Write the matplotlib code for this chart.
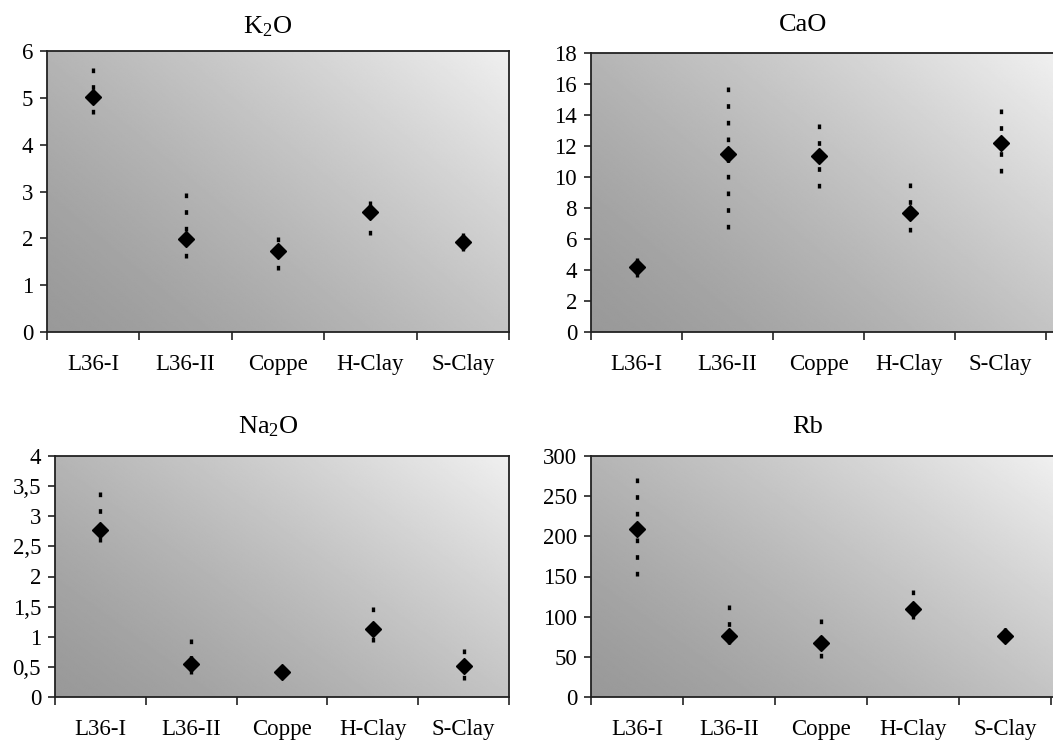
import numpy as np
import matplotlib
matplotlib.use("Agg")
import matplotlib.pyplot as plt
from matplotlib.ticker import FuncFormatter, FixedLocator

plt.rcParams['font.family'] = ['Liberation Serif', 'DejaVu Serif']
plt.rcParams['mathtext.default'] = 'regular'

categories = ["L36-I", "L36-II", "Coppe", "H-Clay", "S-Clay"]

k2o_mean = [5.02, 1.99, 1.72, 2.57, 1.92]
k2o_low = [4.65, 1.58, 1.32, 2.07, 1.73]
k2o_high = [5.63, 2.97, 2.02, 2.80, 2.12]

cao_mean = [4.2, 11.47, 11.38, 7.69, 12.22]
cao_low = [3.56, 6.64, 9.27, 6.42, 10.24]
cao_high = [4.8, 15.78, 13.4, 9.63, 14.38]

na2o_mean = [2.77, 0.55, 0.41, 1.13, 0.52]
na2o_low = [2.58, 0.39, 0.39, 0.91, 0.28]
na2o_high = [3.41, 0.96, 0.43, 1.49, 0.80]

rb_mean = [209.5, 75.5, 67.6, 110.0, 76.0]
rb_low = [150.6, 66.0, 49.0, 97.5, 68.5]
rb_high = [273.0, 114.0, 97.5, 133.0, 86.0]

panels = [
    dict(title=r"K$_{2}$O", mean=k2o_mean, low=k2o_low, high=k2o_high,
         ymax=6, step=1, rect=(47, 51, 509, 332), xmax=5.5, tx=268, ty=27, right=True),
    dict(title="CaO", mean=cao_mean, low=cao_low, high=cao_high,
         ymax=18, step=2, rect=(591, 53, 1053, 332), xmax=0.5 + 462 / 91.0, tx=803, ty=25, right=False),
    dict(title=r"Na$_{2}$O", mean=na2o_mean, low=na2o_low, high=na2o_high,
         ymax=4, step=0.5, rect=(55, 456, 509, 697), xmax=5.5, tx=268, ty=427, right=True),
    dict(title="Rb", mean=rb_mean, low=rb_low, high=rb_high,
         ymax=300, step=50, rect=(591, 456, 1053, 697), xmax=0.5 + 462 / 92.0, tx=808, ty=427, right=False),
]

W, H = 1053, 740
fig = plt.figure(figsize=(W / 100, H / 100), dpi=100)
fig.patch.set_facecolor('white')

# background gradient
gx, gy = np.meshgrid(np.linspace(0, 1, 300), np.linspace(0, 1, 200))
grad = 0.60 + 0.34 * (0.58 * gx + 0.42 * gy) ** 1.3


def fmt(v, pos):
    if abs(v - round(v)) < 1e-9:
        return "%d" % round(v)
    return ("%g" % v).replace(".", ",")


for p in panels:
    l, t, r, b = p['rect']
    ax = fig.add_axes([l / W, 1 - b / H, (r - l) / W, (b - t) / H])
    ax.imshow(grad, cmap='gray', vmin=0, vmax=1, origin='lower',
              extent=[0, 1, 0, 1], transform=ax.transAxes, aspect='auto',
              zorder=0, interpolation='bilinear')
    x = np.arange(1, len(categories) + 1)
    for xi, m, lo, hi in zip(x, p['mean'], p['low'], p['high']):
        for end in (hi, lo):
            ax.plot([xi, xi], [end, m], color='black', lw=2.4,
                    linestyle=(0, (1.4, 3.6)), solid_capstyle='butt',
                    dash_capstyle='butt', zorder=2)
    ax.plot(x, p['mean'], linestyle='none', marker='D', color='black',
            markersize=8.5, zorder=3)
    ax.set_xlim(0.5, p['xmax'])
    ax.set_ylim(0, p['ymax'])
    ax.set_yticks(np.arange(0, p['ymax'] + p['step'] / 2, p['step']))
    ax.yaxis.set_major_formatter(FuncFormatter(fmt))
    ax.xaxis.set_major_locator(FixedLocator([0.5, 1.5, 2.5, 3.5, 4.5, 5.5]))
    ax.xaxis.set_minor_locator(FixedLocator(list(x)))
    ax.set_xticklabels([])
    ax.set_xticklabels(categories, minor=True)
    ax.tick_params(axis='x', which='major', direction='out', length=6, width=1.2, color='#222222')
    ax.tick_params(axis='x', which='minor', length=0, pad=16, labelsize=16.5)
    ax.tick_params(axis='y', direction='out', length=5, width=1.2, pad=5,
                   labelsize=16.5, color='#222222')
    for s in ax.spines.values():
        s.set_color('#222222')
        s.set_linewidth(1.3)
    if not p['right']:
        ax.spines['right'].set_visible(False)
    fig.text(p['tx'] / W, 1 - p['ty'] / H, p['title'], ha='center', va='center',
             fontsize=19)

fig.savefig("out.png", dpi=100)
